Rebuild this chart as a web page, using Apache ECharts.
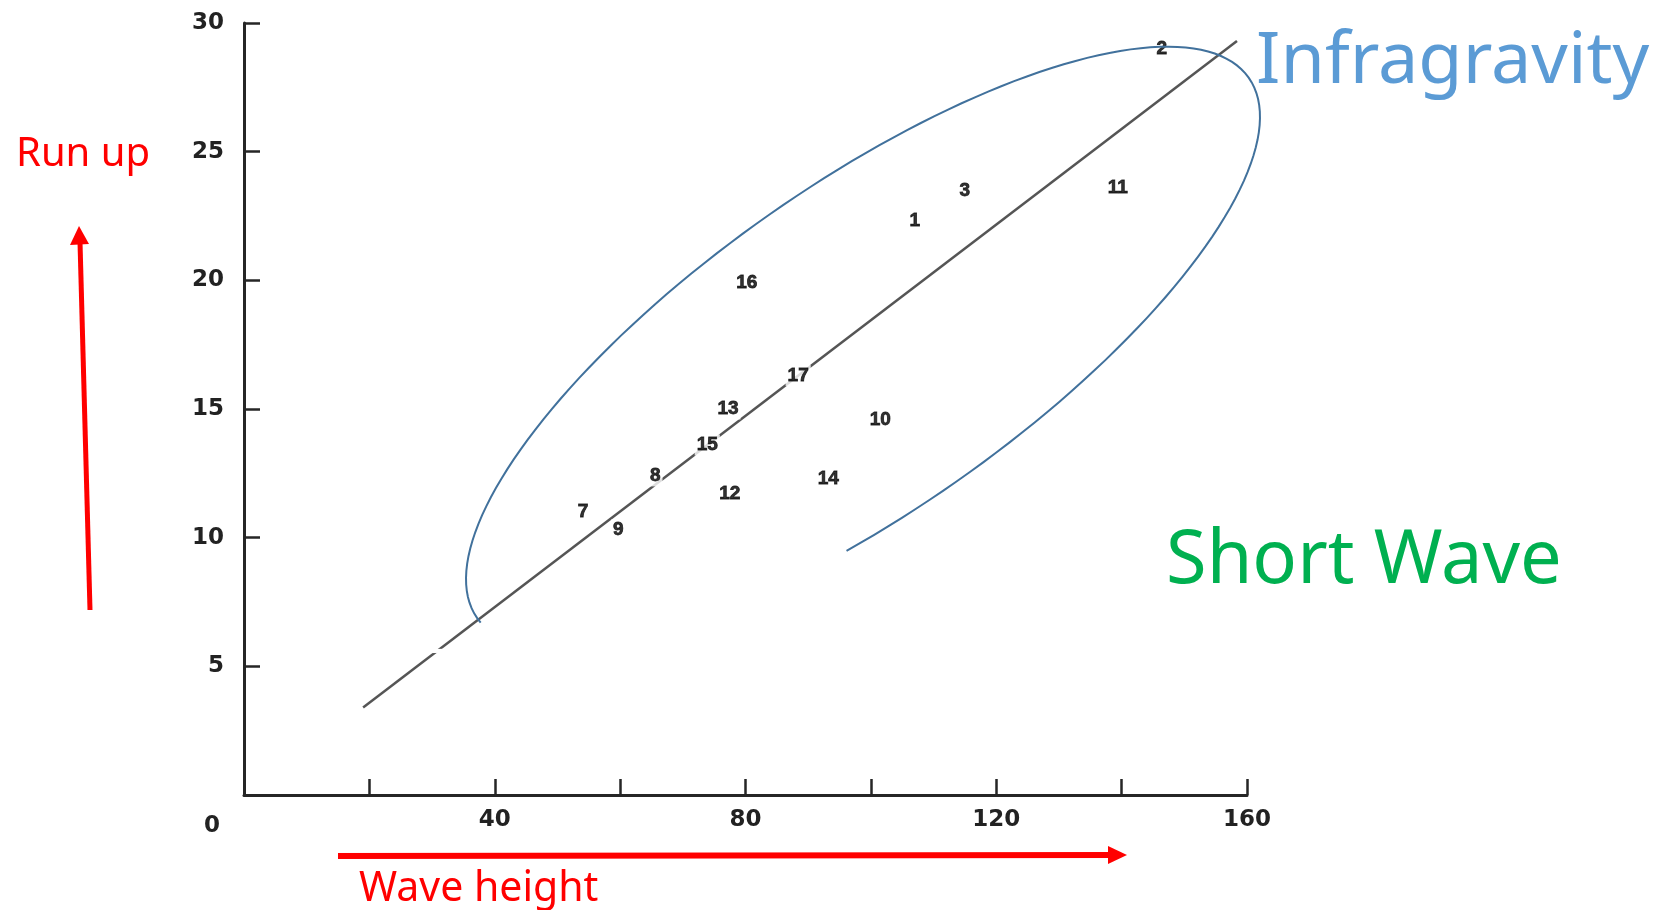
<!DOCTYPE html>
<html>
<head>
<meta charset="utf-8">
<title>Run up vs wave height</title>
<script src="https://cdn.jsdelivr.net/npm/echarts@6/dist/echarts.min.js"></script>
<style>
  html, body { margin: 0; padding: 0; background: #fff; }
  #main { width: 1655px; height: 910px; }
</style>
</head>
<body>
<div id="main"></div>
<script>
// run numbers and where they sit (wave height, run up)
const runIds = ['1', '2', '3', '7', '8', '9', '10', '11', '12', '13', '14', '15', '16', '17'];
const waveHeight = [107, 146.4, 115, 54.1, 65.6, 59.7, 101.5, 139.4, 77.5, 77.2, 93.2, 73.9, 80.2, 88.4];
const runUp = [22.3, 29.0, 23.5, 11.0, 12.4, 10.3, 14.6, 23.6, 11.7, 15.0, 12.3, 13.6, 19.9, 16.3];

// fitted line, its two ends
const fitX = [19, 158.4];
const fitY = [3.4, 29.3];

// labelled ticks
const xTicks = [40, 80, 120, 160];
const yTicks = [5, 10, 15, 20, 25, 30];

const red = '#ff0000';
const axisColor = '#262626';
const numFont = 'DejaVu Sans';

// the hand drawn ellipse round the points (annotation only, pixel space)
function ellipsePoints(cx, cy, a, b, rotDeg, fromDeg, toDeg) {
  const th = rotDeg * Math.PI / 180;
  const pts = [];
  for (let d = fromDeg; d <= toDeg; d += 2) {
    const t = d * Math.PI / 180;
    const p = a * Math.cos(t), q = b * Math.sin(t);
    pts.push([cx + p * Math.cos(th) + q * Math.sin(th), cy - p * Math.sin(th) + q * Math.cos(th)]);
  }
  return pts;
}

let chart = echarts.init(document.getElementById('main'));

let option = {
  backgroundColor: '#fff',
  animation: false,
  grid: { left: 244, top: 23, width: 1003, height: 772 },
  xAxis: {
    type: 'value',
    min: 0,
    max: 160,
    interval: 20,
    splitLine: { show: false },
    axisLine: { lineStyle: { color: axisColor, width: 3 } },
    axisTick: { inside: true, length: 16, lineStyle: { color: axisColor, width: 2.5 } },
    axisLabel: {
      margin: 14,
      color: '#222',
      fontFamily: numFont,
      fontWeight: 'bold',
      fontSize: 23,
      formatter: v => xTicks.includes(v) ? String(v) : ''
    }
  },
  yAxis: {
    type: 'value',
    min: 0,
    max: 30,
    interval: 5,
    splitLine: { show: false },
    axisLine: { lineStyle: { color: axisColor, width: 3 } },
    axisTick: { inside: true, length: 16, lineStyle: { color: axisColor, width: 2.5 } },
    axisLabel: {
      margin: 20,
      color: '#222',
      fontFamily: numFont,
      fontWeight: 'bold',
      fontSize: 23,
      formatter: v => yTicks.includes(v) ? String(v) : ''
    }
  },
  series: [
    {
      name: 'fit',
      type: 'line',
      z: 1,
      symbol: 'none',
      data: fitX.map((x, i) => [x, fitY[i]]),
      lineStyle: { color: '#555', width: 2.5 }
    },
    {
      name: 'runs',
      type: 'scatter',
      z: 3,
      symbol: 'circle',
      symbolSize: 1,
      itemStyle: { color: 'rgba(0,0,0,0)' },
      data: runIds.map((id, i) => [waveHeight[i], runUp[i], id]),
      label: {
        show: true,
        position: 'inside',
        formatter: p => p.data[2],
        color: '#000',
        fontFamily: 'Liberation Sans',
        fontWeight: 'bold',
        fontSize: 19,
        textBorderColor: '#000',
        textBorderWidth: 0.8,
        backgroundColor: '#fff',
        padding: [1, 2]
      }
    }
  ],
  graphic: [
    // lone "0" at the origin
    { type: 'text', z: 10, style: { x: 212, y: 826, text: '0', fill: '#222', font: 'bold 23px "DejaVu Sans"', textAlign: 'center', textVerticalAlign: 'middle' } },
    // white scratch across the fit line near 5
    { type: 'line', z: 10, shape: { x1: 283, y1: 655, x2: 473, y2: 650 }, style: { stroke: '#fff', lineWidth: 4 } },
    // ellipse
    { type: 'polyline', z: 10, shape: { points: ellipsePoints(863, 348, 471, 163, 35, 178, 466) }, style: { stroke: '#41719c', lineWidth: 2, fill: null } },
    // notes
    { type: 'text', z: 10, style: { x: 16, y: 155, text: 'Run up', fill: red, font: '40px "Noto Sans"', textVerticalAlign: 'middle' } },
    { type: 'text', z: 10, style: { x: 359, y: 889, text: 'Wave height', fill: red, font: '41px "Noto Sans"', textVerticalAlign: 'middle' } },
    { type: 'text', z: 10, style: { x: 1256, y: 62, text: 'Infragravity', fill: '#5b9bd5', font: '72px "Noto Sans"', textVerticalAlign: 'middle' } },
    { type: 'text', z: 10, style: { x: 1166, y: 562, text: 'Short Wave', fill: '#00b050', font: '74px "Noto Sans"', textVerticalAlign: 'middle' } },
    // up arrow
    { type: 'line', z: 10, shape: { x1: 90, y1: 610, x2: 80, y2: 242 }, style: { stroke: red, lineWidth: 5 } },
    { type: 'polygon', z: 10, shape: { points: [[79, 226], [70, 245], [89, 244]] }, style: { fill: red } },
    // right arrow
    { type: 'line', z: 10, shape: { x1: 338, y1: 856, x2: 1110, y2: 855 }, style: { stroke: red, lineWidth: 6 } },
    { type: 'polygon', z: 10, shape: { points: [[1127, 855], [1108, 846], [1108, 864]] }, style: { fill: red } }
  ]
};

chart.setOption(option);
</script>
</body>
</html>
